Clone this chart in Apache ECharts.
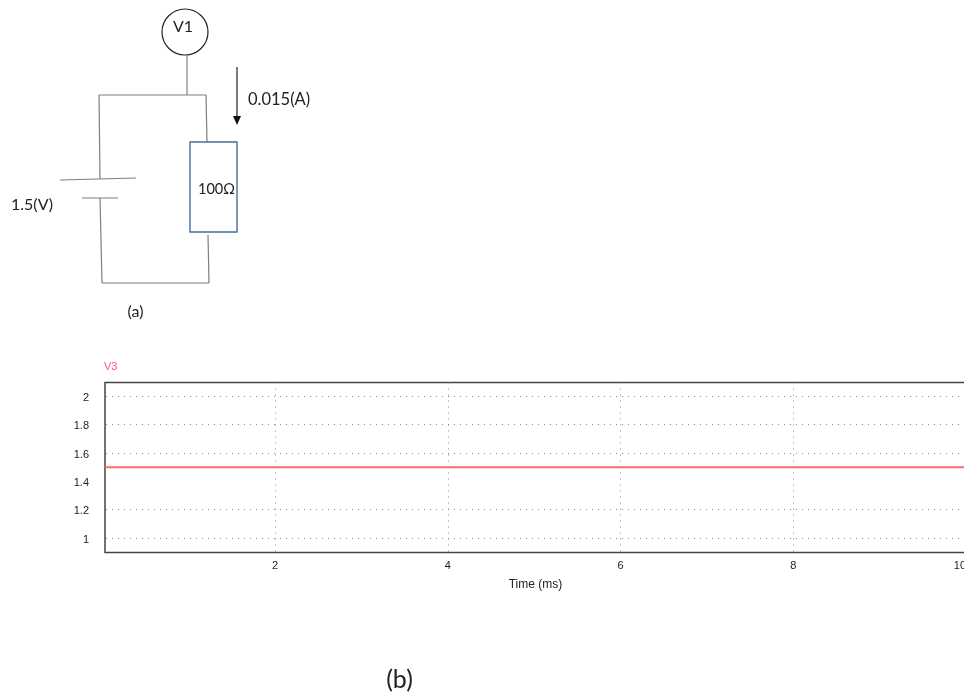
<!DOCTYPE html>
<html><head><meta charset="utf-8">
<style>html,body{margin:0;padding:0;background:#fff;overflow:hidden}#c{width:964px;height:695px}</style>
<script src="https://cdn.jsdelivr.net/npm/echarts@6/dist/echarts.min.js"></script>
</head><body><div id="c"></div>
<script>
const seriesName = 'V3';
const timeMs = [0.03, 10];
const v3Values = [1.5, 1.5];
const xTicks = [2, 4, 6, 8, 10];
const xGrid = [2, 4, 6, 8];
const yTicks = [1, 1.2, 1.4, 1.6, 1.8, 2];
const yGridLines = [1, 1.2, 1.6, 1.8, 2];
const diagramFont = 'Lato, "Open Sans", sans-serif';
const plotFont = '"Liberation Sans", Arial, sans-serif';

const wire = (x1, y1, x2, y2, stroke = '#7f7f7f') => ({
  type: 'line', shape: { x1, y1, x2, y2 }, style: { stroke, lineWidth: 1.2 }
});
const label = (x, y, text, fontSize = 16, align = 'left') => ({
  type: 'text', x, y,
  style: { text, fontSize, fontFamily: diagramFont, fill: '#222', align, verticalAlign: 'middle' }
});

const chart = echarts.init(document.getElementById('c'), null, { renderer: 'canvas' });
chart.setOption({
  animation: false,
  backgroundColor: '#fff',
  grid: {
    left: 105, top: 382.5, width: 861, height: 170, show: true,
    borderColor: '#444', borderWidth: 1.5, backgroundColor: 'transparent',
    containLabel: false, outerBoundsMode: 'none'
  },
  xAxis: {
    type: 'value', min: 0.03, max: 10,
    name: 'Time (ms)', nameLocation: 'middle', nameGap: 26,
    nameTextStyle: { fontFamily: plotFont, fontSize: 12, color: '#222' },
    axisLine: { show: false }, axisTick: { show: false, customValues: xTicks },
    axisLabel: { customValues: xTicks, fontFamily: plotFont, fontSize: 11, color: '#222', margin: 8, alignMaxLabel: 'right' },
    splitLine: { show: false }
  },
  yAxis: {
    type: 'value', min: 0.898, max: 2.098,
    axisLine: { show: false }, axisTick: { show: false, customValues: yTicks },
    axisLabel: {
      customValues: yTicks, margin: 16, formatter: '{v|{value}}',
      rich: { v: { fontFamily: plotFont, fontSize: 11, color: '#222', padding: [3, 0, 0, 0] } }
    },
    splitLine: { show: false }
  },
  series: [
    {
      name: 'grid', type: 'line', data: [], silent: true,
      markLine: {
        silent: true, symbol: 'none', label: { show: false }, animation: false,
        lineStyle: { type: [1, 5], dashOffset: 5, color: '#888', width: 1 },
        data: [...yGridLines.map(v => ({ yAxis: v })), ...xGrid.map(v => ({ xAxis: v }))]
      }
    },
    {
      name: seriesName, type: 'line', showSymbol: false, silent: true,
      data: timeMs.map((t, i) => [t, v3Values[i]]),
      lineStyle: { color: '#ff6b6b', width: 2 }
    }
  ],
  graphic: { elements: [
    { type: 'circle', shape: { cx: 185, cy: 32, r: 23 }, style: { fill: '#fff', stroke: '#222', lineWidth: 1.2 } },
    label(173, 27, 'V1', 16),
    wire(187, 55, 187, 95), wire(99, 95, 206, 95), wire(206, 95, 207, 143),
    wire(99, 95, 100, 179), wire(60, 180, 136, 178), wire(82, 198, 118, 198),
    wire(100, 198, 102, 283), wire(102, 283, 209, 283), wire(209, 283, 208, 235),
    { type: 'rect', shape: { x: 190, y: 142, width: 47, height: 90 }, style: { fill: '#fff', stroke: '#41719c', lineWidth: 1.4 } },
    wire(237, 67, 237, 116, '#222'),
    { type: 'polygon', shape: { points: [[233, 116], [241, 116], [237, 125]] }, style: { fill: '#111' } },
    label(248, 100, '0.015(A)', 16.5),
    label(198, 189, '100Ω', 14.5),
    label(11, 205, '1.5(V)'),
    label(135.5, 312, '(a)', 16, 'center'),
    label(399.5, 680, '(b)', 25, 'center'),
    { type: 'text', x: 104, y: 367, style: { text: seriesName, fontSize: 11, fontFamily: plotFont, fill: '#ff5a6a', verticalAlign: 'middle' } }
  ] }
});
</script></body></html>
